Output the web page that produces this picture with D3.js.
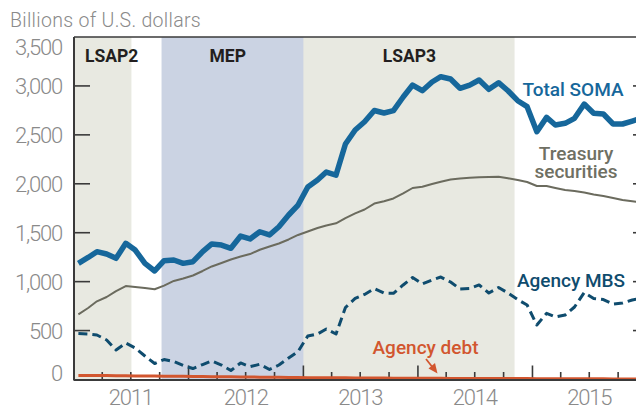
<!DOCTYPE html>
<html>
<head>
<meta charset="utf-8">
<script src="https://cdn.jsdelivr.net/npm/d3@7"></script>
<style>
  body { margin: 0; background: #fff; }
  svg { display: block; font-family: Roboto, "Noto Sans", sans-serif; }
</style>
</head>
<body>
<div id="chart"></div>
<script>
// monthly readings, mid-month, Jan 2011 .. Dec 2015 (billions of U.S. dollars)
const startMonth = new Date(2011, 0, 15);

const totalSoma = [
  1187, 1247, 1306, 1282, 1238, 1392, 1323, 1187, 1109, 1214, 1221, 1187,
  1204, 1306, 1385, 1374, 1341, 1466, 1436, 1510, 1477, 1561, 1681, 1783,
  1967, 2038, 2120, 2089, 2406, 2550, 2634, 2749, 2723, 2747, 2887, 3009,
  2951, 3040, 3094, 3071, 2976, 3009, 3061, 2965, 3033, 2951, 2849, 2788,
  2532, 2679, 2601, 2618, 2669, 2815, 2720, 2713, 2611, 2611, 2641, 2672
];

const treasury = [
  666, 731, 799, 843, 904, 955, 945, 935, 922, 960, 1007, 1032,
  1063, 1109, 1155, 1190, 1226, 1257, 1282, 1326, 1359, 1390, 1431, 1477,
  1512, 1548, 1574, 1596, 1650, 1698, 1737, 1798, 1821, 1850, 1901, 1957,
  1970, 1998, 2021, 2044, 2054, 2061, 2066, 2069, 2072, 2056, 2039, 2018,
  1977, 1977, 1957, 1936, 1926, 1911, 1890, 1875, 1855, 1834, 1821, 1809
];

const agencyMbs = [
  470, 465, 455, 404, 302, 373, 322, 240, 163, 204, 184, 143,
  112, 153, 189, 148, 92, 169, 131, 156, 102, 148, 220, 286,
  444, 465, 516, 465, 736, 828, 869, 930, 884, 881, 966, 1042,
  976, 1017, 1047, 996, 925, 930, 966, 884, 940, 884, 817, 761,
  557, 676, 639, 659, 741, 889, 828, 817, 771, 782, 812, 833
];

const agencyDebt = [
  42, 41, 41, 40, 39, 38, 37, 36, 35, 34, 33, 32,
  31, 30, 29, 28, 27, 26, 25, 24, 23, 22, 21, 20,
  19, 18, 18, 17, 17, 16, 16, 15, 15, 14, 14, 13,
  13, 12, 12, 11, 11, 11, 10, 10, 10, 9, 9, 9,
  8, 8, 8, 8, 7, 7, 7, 7, 6, 6, 6, 6
];

const periods = [
  { name: 'LSAP3', start: '2012-09-13', end: '2014-11-05', fill: '#e8e9e1', labelAt: '2013-12-05' },
  { name: 'LSAP2', start: '2010-11-03', end: '2011-07-03', fill: '#e8e9e1', labelAt: '2011-03-10' },
  { name: 'MEP', start: '2011-10-07', end: '2013-01-01', fill: '#cbd3e3', labelAt: '2012-05-05' }
];

const yTicks = [0, 500, 1000, 1500, 2000, 2500, 3000, 3500];
const yearLabels = [2011, 2012, 2013, 2014, 2015];

const width = 636;
const height = 407;
const margin = { top: 37, left: 74, bottom: 379.5 };

const months = totalSoma.map((d, i) => d3.timeMonth.offset(startMonth, i));

const x = d3.scaleTime()
  .domain([new Date(2011, 0, 1), new Date(2016, 0, 1)])
  .range([margin.left, 647]);

const y = d3.scaleLinear()
  .domain([0, 3500])
  .range([margin.bottom, margin.top]);

const svg = d3.select('#chart')
  .append('svg')
  .attr('width', width)
  .attr('height', height);

svg.append('clipPath')
  .attr('id', 'plot-clip')
  .append('rect')
  .attr('x', margin.left)
  .attr('y', margin.top)
  .attr('width', 647 - margin.left)
  .attr('height', margin.bottom - margin.top);

// shaded programme periods
const shading = svg.append('g').attr('clip-path', 'url(#plot-clip)');
shading.selectAll('rect')
  .data(periods)
  .join('rect')
  .attr('x', (d) => x(new Date(d.start)))
  .attr('y', margin.top)
  .attr('width', (d) => x(new Date(d.end)) - x(new Date(d.start)))
  .attr('height', margin.bottom - margin.top)
  .attr('fill', (d) => d.fill);

svg.append('g')
  .selectAll('text')
  .data(periods)
  .join('text')
  .attr('x', (d) => (d.name === 'LSAP2' ? 85 : x(new Date(d.labelAt))))
  .attr('y', 61.5)
  .attr('text-anchor', (d) => (d.name === 'LSAP2' ? 'start' : 'middle'))
  .attr('font-size', 17.5)
  .attr('font-weight', 700)
  .attr('fill', '#231f20')
  .text((d) => d.name);

// title
svg.append('text')
  .attr('x', 10)
  .attr('y', 27)
  .attr('font-size', 19.5)
  .attr('font-weight', 300)
  .attr('letter-spacing', 0.3)
  .attr('fill', '#8a8a8a')
  .text('Billions of U.S. dollars');

// y tick labels
svg.append('g')
  .selectAll('text')
  .data(yTicks)
  .join('text')
  .attr('x', 62)
  .attr('y', (d) => y(d) + (d === 3500 ? 18 : d === 0 ? 1.5 : 8))
  .attr('text-anchor', 'end')
  .attr('font-size', 22)
  .attr('font-weight', 300)
  .attr('letter-spacing', -1.2)
  .attr('fill', '#8a8a8a')
  .text(d3.format(','));

// y ticks, left and right
const innerTicks = yTicks.filter((d) => d > 0 && d < 3500);
const tickG = svg.append('g').attr('stroke', '#3a3a3a').attr('stroke-width', 1.6);
tickG.selectAll('line.l')
  .data(innerTicks)
  .join('line')
  .attr('class', 'l')
  .attr('x1', margin.left)
  .attr('x2', margin.left + 16)
  .attr('y1', y)
  .attr('y2', y);
tickG.selectAll('line.r')
  .data(innerTicks)
  .join('line')
  .attr('class', 'r')
  .attr('x1', 633)
  .attr('x2', 647)
  .attr('y1', y)
  .attr('y2', y);

// x ticks: quarters, taller at year starts
const quarters = d3.timeMonth.every(3).range(new Date(2011, 3, 1), new Date(2016, 0, 1));
tickG.selectAll('line.x')
  .data(quarters)
  .join('line')
  .attr('class', 'x')
  .attr('x1', x)
  .attr('x2', x)
  .attr('y1', margin.bottom)
  .attr('y2', (d) => margin.bottom - (d.getMonth() === 0 ? 14 : 7.5));

svg.append('g')
  .selectAll('text')
  .data(yearLabels)
  .join('text')
  .attr('x', (d) => x(new Date(d, 6, 1)))
  .attr('y', 405)
  .attr('text-anchor', 'middle')
  .attr('font-size', 22)
  .attr('font-weight', 300)
  .attr('letter-spacing', -1.2)
  .attr('fill', '#8a8a8a')
  .text((d) => d);

// series
const line = d3.line()
  .x((d, i) => x(months[i]))
  .y((d) => y(d));

const lines = svg.append('g')
  .attr('clip-path', 'url(#plot-clip)')
  .attr('fill', 'none')
  .attr('stroke-linejoin', 'round');

lines.append('path')
  .attr('d', line(treasury))
  .attr('stroke', '#6b6b5e')
  .attr('stroke-width', 2);

lines.append('path')
  .attr('d', line(agencyMbs))
  .attr('stroke', '#0f4c6e')
  .attr('stroke-width', 3)
  .attr('stroke-dasharray', '9,5');

lines.append('path')
  .attr('d', line(totalSoma))
  .attr('stroke', '#16679b')
  .attr('stroke-width', 5.5);

// axes frame
const frame = svg.append('g').attr('stroke', '#3a3a3a').attr('fill', 'none');
frame.append('line')
  .attr('x1', margin.left).attr('x2', 647)
  .attr('y1', margin.top).attr('y2', margin.top)
  .attr('stroke-width', 1.5);
frame.append('line')
  .attr('x1', margin.left).attr('x2', margin.left)
  .attr('y1', margin.top).attr('y2', margin.bottom + 1)
  .attr('stroke-width', 2);
frame.append('line')
  .attr('x1', margin.left).attr('x2', 647)
  .attr('y1', margin.bottom + 0.5).attr('y2', margin.bottom + 0.5)
  .attr('stroke-width', 2);

lines.append('path')
  .attr('d', line(agencyDebt))
  .attr('stroke', '#d2562f')
  .attr('stroke-width', 3);

// series labels
const labels = [
  { text: ['Total SOMA'], x: 573, y: 96, color: '#16679b' },
  { text: ['Treasury', 'securities'], x: 576, y: 159.5, color: '#6f7063' },
  { text: ['Agency MBS'], x: 571, y: 287, color: '#0f4c6e' },
  { text: ['Agency debt'], x: 425.5, y: 353.5, color: '#d2562f' }
];

svg.append('g')
  .selectAll('text')
  .data(labels)
  .join('text')
  .attr('x', (d) => d.x)
  .attr('y', (d) => d.y)
  .attr('text-anchor', 'middle')
  .attr('font-size', 19)
  .attr('font-weight', 500)
  .attr('fill', (d) => d.color)
  .selectAll('tspan')
  .data((d) => d.text.map((t) => ({ t, x: d.x })))
  .join('tspan')
  .attr('x', (d) => d.x)
  .attr('dy', (d, i) => (i ? 18.5 : 0))
  .text((d) => d.t);

// arrow to agency debt line
svg.append('line')
  .attr('x1', 426).attr('y1', 359)
  .attr('x2', 433.5).attr('y2', 368.5)
  .attr('stroke', '#d2562f')
  .attr('stroke-width', 1.8);
svg.append('path')
  .attr('d', 'M437.5,373.5 L428.5,368.5 L435,363 Z')
  .attr('fill', '#d2562f');
</script>
</body>
</html>
